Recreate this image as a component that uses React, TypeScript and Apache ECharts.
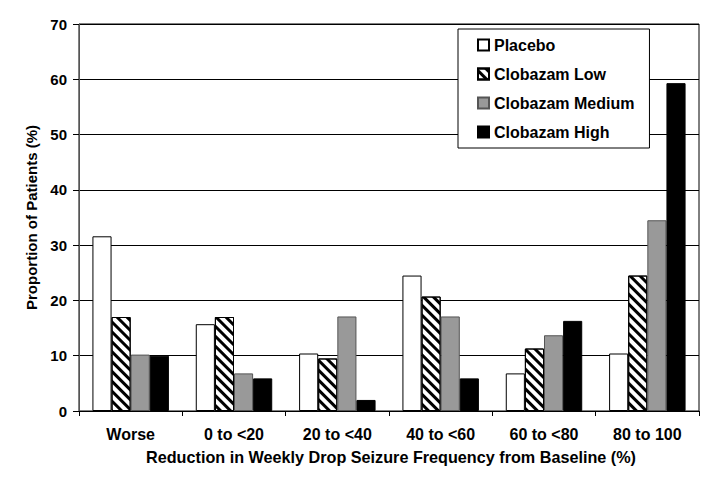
import React, { useEffect, useRef } from "react";
import * as echarts from "echarts";

const categories = ["Worse", "0 to <20", "20 to <40", "40 to <60", "60 to <80", "80 to 100"];
const placebo = [31.6, 15.7, 10.4, 24.5, 6.8, 10.4];
const clobazamLow = [17.0, 17.0, 9.5, 20.7, 11.3, 24.5];
const clobazamMedium = [10.2, 6.8, 17.1, 17.1, 13.7, 34.5];
const clobazamHigh = [10.0, 5.9, 2.0, 5.9, 16.3, 59.3];
const yTicks = { min: 0, max: 70, interval: 10 };

const FONT = "'Liberation Sans', Arial, sans-serif";

export default function App() {
  const ref = useRef<HTMLDivElement>(null);
  useEffect(() => {
    if (!ref.current) return;
    const chart = echarts.init(ref.current, null, { renderer: "svg" });
    const barBase = { type: "bar" as const, barGap: "0%", barCategoryGap: "26%" };
    chart.setOption({
      animation: false,
      backgroundColor: "#fff",
      textStyle: { fontFamily: FONT },
      grid: {
        left: 79,
        right: 29,
        top: 24,
        bottom: 70,
        show: true,
        borderColor: "#000",
        borderWidth: 1,
        backgroundColor: "transparent",
      },
      legend: {
        orient: "vertical",
        left: 458,
        top: 29,
        padding: [8, 15, 8, 19],
        itemGap: 13,
        itemWidth: 11,
        itemHeight: 11,
        icon: "rect",
        backgroundColor: "#fff",
        borderColor: "#000",
        borderWidth: 1,
        borderRadius: 0,
        textStyle: { fontFamily: FONT, fontWeight: "bold", fontSize: 16, color: "#000", lineHeight: 16 },
        data: ["Placebo", "Clobazam Low", "Clobazam Medium", "Clobazam High"],
      },
      xAxis: {
        type: "category",
        data: categories,
        axisLine: { show: true, lineStyle: { color: "#000", width: 1 } },
        axisTick: { show: true, length: 5, lineStyle: { color: "#000" } },
        axisLabel: { fontFamily: FONT, fontWeight: "bold", fontSize: 16, color: "#000", margin: 15 },
      },
      yAxis: {
        type: "value",
        min: yTicks.min,
        max: yTicks.max,
        interval: yTicks.interval,
        name: "Proportion of Patients (%)",
        nameLocation: "middle",
        nameGap: 38,
        nameTextStyle: { fontFamily: FONT, fontWeight: "bold", fontSize: 15, color: "#000" },
        axisLine: { show: true, lineStyle: { color: "#555", width: 1 } },
        axisTick: { show: true, length: 6, lineStyle: { color: "#000" } },
        axisLabel: { fontFamily: FONT, fontWeight: "bold", fontSize: 15, color: "#000", margin: 12 },
        splitLine: { show: true, lineStyle: { color: "#000", width: 1 } },
      },
      graphic: [
        {
          type: "text",
          x: 391,
          y: 457,
          style: {
            text: "Reduction in Weekly Drop Seizure Frequency from Baseline (%)",
            fontFamily: FONT,
            fontWeight: "bold",
            fontSize: 16.2,
            fill: "#000",
            align: "center",
            verticalAlign: "middle",
          },
        },
      ],
      series: [
        {
          ...barBase,
          name: "Placebo",
          data: placebo,
          itemStyle: { color: "#fff", borderColor: "#000", borderWidth: 1 },
        },
        {
          ...barBase,
          name: "Clobazam Low",
          data: clobazamLow,
          itemStyle: {
            color: "#fff",
            borderColor: "#000",
            borderWidth: 1,
            decal: {
              symbol: "rect",
              symbolSize: 1,
              color: "#000",
              dashArrayX: [1, 0],
              dashArrayY: [3, 4],
              rotation: Math.PI / 4,
            },
          },
        },
        {
          ...barBase,
          name: "Clobazam Medium",
          data: clobazamMedium,
          itemStyle: { color: "#999", borderColor: "#555", borderWidth: 1 },
        },
        {
          ...barBase,
          name: "Clobazam High",
          data: clobazamHigh,
          itemStyle: { color: "#000", borderColor: "#000", borderWidth: 1 },
        },
      ],
    });
    return () => chart.dispose();
  }, []);
  return <div ref={ref} style={{ position: "fixed", left: 0, top: 0, width: 728, height: 481 }} />;
}
